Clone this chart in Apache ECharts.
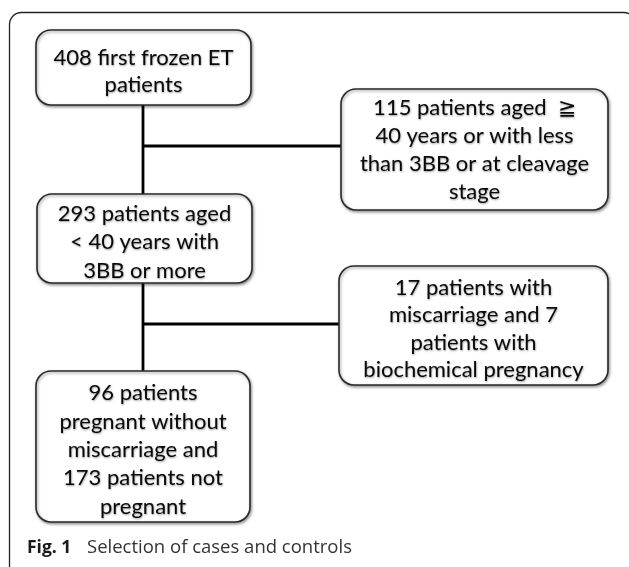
<!DOCTYPE html>
<html><head><meta charset="utf-8">
<script src="https://cdn.jsdelivr.net/npm/echarts@6/dist/echarts.min.js"></script>
<style>html,body{margin:0;padding:0;background:#fff}#c{width:629px;height:567px}</style>
</head><body><div id="c"></div>
<script>
// ---- content (data) ----
const boxTexts = [
  '408 first frozen ET\npatients',
  '115 patients aged  \u2267\n40 years or with less\nthan 3BB or at cleavage\nstage',
  '293 patients aged\n< 40 years with\n3BB or more',
  '17 patients with\nmiscarriage and 7\npatients with\nbiochemical pregnancy',
  '96 patients\npregnant without\nmiscarriage and\n173 patients not\npregnant'
];
const captionLabel = 'Fig. 1';
const captionText = 'Selection of cases and controls';

// ---- layout (positions/sizes, not data) ----
const boxLayout = [
  [36, 30, 251, 105],
  [341, 89, 608, 210],
  [37, 194, 252, 283],
  [339, 266, 608, 385],
  [36, 371, 250, 522]
];
const lineHeights = [27, 28, 28.5, 27.5, 28.4];
const textOffsets = [4, 0.5, 3.5, 3.5, 3.5];
// widest-line target widths measured on the reference, used to size the font
const fitTargets = [[0, 0, 176], [1, 2, 227], [2, 0, 172], [3, 3, 220], [4, 0, 109]];
const connectors = [
  [[143, 105], [143, 194]],
  [[143, 146], [341, 146]],
  [[143, 283], [143, 371]],
  [[143, 324], [339, 324]]
];

const FONT = 'Lato, "Open Sans", sans-serif';
const CAP_FONT = '"Open Sans", Lato, sans-serif';
const mctx = document.createElement('canvas').getContext('2d');
function measure(text, font) { mctx.font = font; return mctx.measureText(text).width; }
let ratioSum = 0;
fitTargets.forEach(t => {
  const line = boxTexts[t[0]].split('\n')[t[1]];
  ratioSum += t[2] / measure(line, '20px ' + FONT);
});
const boxFontSize = Math.round(20 * ratioSum / fitTargets.length * 2) / 2;
const capSize = Math.round(16 * 45 / measure(captionLabel, 'bold 16px ' + CAP_FONT) * 2) / 2;
const capSize2 = Math.round(16 * 263 / measure(captionText, '16px ' + CAP_FONT) * 2) / 2;

const chart = echarts.init(document.getElementById('c'), null, {renderer: 'canvas'});

const lineSeries = connectors.map(c => ({
  type: 'line',
  silent: true,
  symbol: 'none',
  lineStyle: {color: '#000', width: 2.8},
  data: c,
  z: 1
}));

chart.setOption({
  animation: false,
  grid: {left: 0, right: 0, top: 0, bottom: 0},
  xAxis: {type: 'value', min: 0, max: 629, show: false},
  yAxis: {type: 'value', min: 0, max: 567, inverse: true, show: false},
  graphic: [
    {
      type: 'rect',
      shape: {x: 9.5, y: 12.5, width: 626, height: 700, r: 12},
      style: {fill: 'none', stroke: '#222', lineWidth: 1.3}
    },
    {
      type: 'text', x: 27, y: 548,
      style: {text: captionLabel, font: 'bold ' + capSize + 'px ' + CAP_FONT, fill: '#1a1a1a', verticalAlign: 'middle'}
    },
    {
      type: 'text', x: 87, y: 548,
      style: {text: captionText, font: capSize2 + 'px ' + CAP_FONT, fill: '#333', verticalAlign: 'middle'}
    }
  ],
  series: lineSeries.concat([
    {
      type: 'custom',
      coordinateSystem: 'cartesian2d',
      silent: true,
      z: 2,
      data: boxTexts.map((t, i) => [i]),
      renderItem: function (params, api) {
        const i = api.value(0);
        const b = boxLayout[i];
        const p0 = api.coord([b[0], b[1]]);
        const p1 = api.coord([b[2], b[3]]);
        const w = p1[0] - p0[0], h = p1[1] - p0[1];
        return {
          type: 'group',
          children: [
            {
              type: 'rect',
              shape: {x: p0[0], y: p0[1], width: w, height: h, r: 15},
              style: {
                fill: '#fff', stroke: '#2a2a2a', lineWidth: 1.6,
                shadowColor: 'rgba(0,0,0,0.4)', shadowBlur: 3, shadowOffsetX: 1, shadowOffsetY: 1.5
              }
            },
            {
              type: 'text',
              x: p0[0] + w / 2, y: p0[1] + h / 2 + textOffsets[i],
              style: {
                text: boxTexts[i], align: 'center', verticalAlign: 'middle',
                font: boxFontSize + 'px ' + FONT, lineHeight: lineHeights[i], fill: '#0a0a0a',
                textShadowColor: 'rgba(0,0,0,0.4)', textShadowBlur: 2, textShadowOffsetX: 0.5, textShadowOffsetY: 1
              }
            }
          ]
        };
      }
    }
  ])
});
</script>
</body></html>
